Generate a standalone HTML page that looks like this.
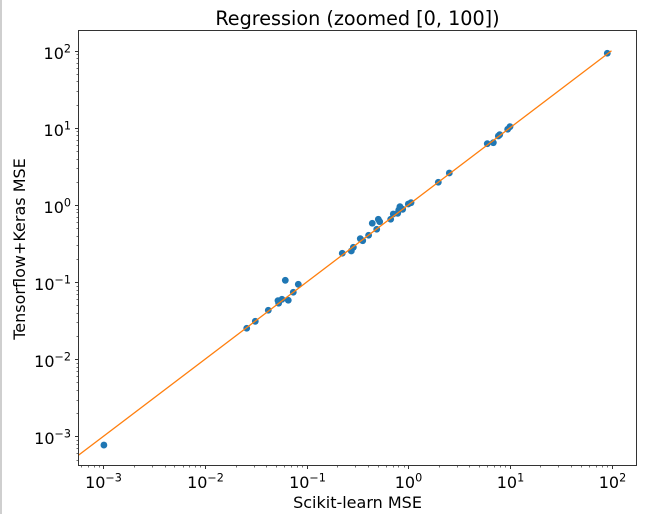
<!DOCTYPE html>
<html>
<head>
<meta charset="utf-8">
<style>
html,body{margin:0;padding:0;background:#fff;width:658px;height:514px;overflow:hidden}
svg{display:block}
text{font-family:"DejaVu Sans","Liberation Sans",sans-serif;fill:#000}
</style>
</head>
<body>
<svg id="chart" width="658" height="514" viewBox="0 0 658 514" xmlns="http://www.w3.org/2000/svg">
  <rect x="0" y="0" width="658" height="514" fill="#fff"/>
  <rect x="0" y="0" width="2" height="514" fill="#cfcfcf"/>
  <text x="357.5" y="25" font-size="19.2" text-anchor="middle">Regression (zoomed [0, 100])</text>
  <text x="357.5" y="508" font-size="16" text-anchor="middle">Scikit-learn MSE</text>
  <text transform="translate(25,249) rotate(-90)" font-size="16" text-anchor="middle">Tensorflow+Keras MSE</text>
  <defs><clipPath id="plot-clip"><rect x="78.5" y="30.5" width="558" height="435"/></clipPath></defs>
  <g id="minor-ticks"></g>
  <g id="major-ticks"></g>
  <g id="tick-labels"></g>
  <g id="points" clip-path="url(#plot-clip)"></g>
  <g id="reference" clip-path="url(#plot-clip)"></g>
  <rect x="78.5" y="30.5" width="558" height="435" fill="none" stroke="#333" stroke-width="1"/>
</svg>
<script>
var sklearnMse = [0.00101,0.0257,0.0312,0.0419,0.0522,0.053,0.0571,0.0659,0.0616,0.0738,0.0827,0.224,0.275,0.288,0.337,0.356,0.407,0.489,0.442,0.507,0.523,0.671,0.711,0.787,0.881,0.828,0.805,1.0,1.064,1.974,2.533,5.99,6.87,7.69,7.94,9.51,10.02,90.9];
var kerasMse = [0.00077,0.0252,0.031,0.0431,0.0574,0.0531,0.0598,0.0581,0.1055,0.0738,0.0936,0.2364,0.253,0.2826,0.3656,0.344,0.4046,0.484,0.579,0.653,0.607,0.653,0.764,0.78,0.879,0.951,0.861,1.03,1.071,1.97,2.6,6.24,6.43,7.85,8.16,9.59,10.37,92.8];
var referenceLine = [0.0001,100];
var tickExponents = [-3,-2,-1,0,1,2];
var minorMultipliers = [2,3,4,5,6,7,8,9];
var xLimits = [0.000568,176.2];
var yLimits = [0.000418,183.2];

var NS = 'http://www.w3.org/2000/svg';
var plot = {left:78.5,right:636.5,top:30.5,bottom:465.5};

function xScale(v){
  var a = Math.log10(xLimits[0]), b = Math.log10(xLimits[1]);
  return plot.left + (Math.log10(v) - a) / (b - a) * (plot.right - plot.left);
}
function yScale(v){
  var a = Math.log10(yLimits[0]), b = Math.log10(yLimits[1]);
  return plot.bottom - (Math.log10(v) - a) / (b - a) * (plot.bottom - plot.top);
}
function make(tag, attrs, parent){
  var el = document.createElementNS(NS, tag);
  for (var k in attrs) el.setAttribute(k, attrs[k]);
  parent.appendChild(el);
  return el;
}
function tickLine(x1, y1, x2, y2, parent, width){
  var el = make('line', {x1:x1, y1:y1, x2:x2, y2:y2, stroke:'#333', 'stroke-width':width}, parent);
  return el;
}
function tickLabel(x, y, anchor, exponent, parent){
  var t = make('text', {x:x, y:y, 'text-anchor':anchor, 'font-size':16}, parent);
  var base = make('tspan', {}, t);
  base.textContent = '10';
  var sup = make('tspan', {dy:-6.5, 'font-size':11.2}, t);
  sup.textContent = String(exponent).replace('-', '\u2212');
  return t;
}

var minorG = document.getElementById('minor-ticks');
var majorG = document.getElementById('major-ticks');
var labelG = document.getElementById('tick-labels');

for (var e = -4; e <= 2; e++) {
  for (var m = 0; m < minorMultipliers.length; m++) {
    var v = minorMultipliers[m] * Math.pow(10, e);
    if (v >= xLimits[0] && v <= xLimits[1]) {
      var mx = Math.round(xScale(v)) + 0.5;
      var minorX = tickLine(mx, plot.bottom, mx, plot.bottom + 2, minorG, 0.7);
      
      
    }
    if (v >= yLimits[0] && v <= yLimits[1]) {
      var my = Math.round(yScale(v)) + 0.5;
      var minorY = tickLine(plot.left - 2, my, plot.left, my, minorG, 0.7);
      
      
    }
  }
}

tickExponents.forEach(function(exp){
  var v = Math.pow(10, exp);
  var px = Math.round(xScale(v)) + 0.5;
  var py = Math.round(yScale(v)) + 0.5;
  var majorX = tickLine(px, plot.bottom, px, plot.bottom + 3.5, majorG, 1);
  
  
  var majorY = tickLine(plot.left - 3.5, py, plot.left, py, majorG, 1);
  
  
  var xl = tickLabel(px, 488, 'middle', exp, labelG);
  
  
  var yl = tickLabel(71, py + 7.5, 'end', exp, labelG);
  
  
});

var pointsG = document.getElementById('points');
sklearnMse.forEach(function(xv, i){
  var c = make('circle', {cx:xScale(xv), cy:yScale(kerasMse[i]), r:3.4, fill:'#1f77b4'}, pointsG);
  
  
});

var refG = document.getElementById('reference');
var refLine = make('line', {
  x1:xScale(referenceLine[0]), y1:yScale(referenceLine[0]),
  x2:xScale(referenceLine[1]), y2:yScale(referenceLine[1]),
  stroke:'#ff7f0e', 'stroke-width':1.3
}, refG);


</script>
</body>
</html>
